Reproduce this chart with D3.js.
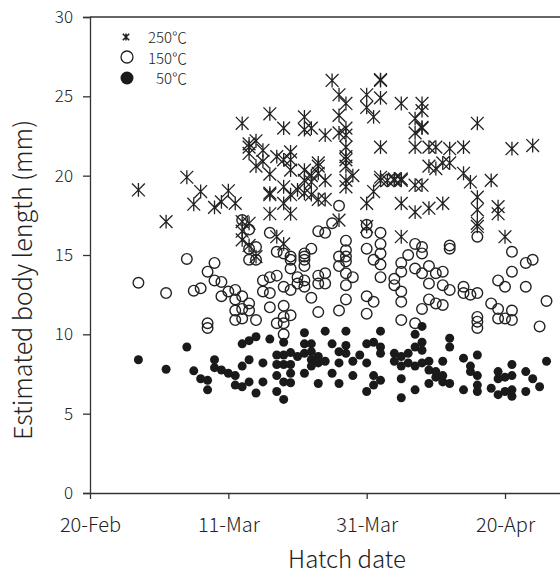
<!DOCTYPE html>
<html>
<head>
<meta charset="utf-8">
<script src="https://cdn.jsdelivr.net/npm/d3@7"></script>
<style>
  html, body { margin: 0; padding: 0; background: #fff; }
  svg { display: block; }
  text { font-family: "Noto Sans CJK JP", "DejaVu Sans", sans-serif; fill: #222; font-weight: 300; }
</style>
</head>
<body>
<svg id="chart" width="560" height="578"></svg>
<script>
// ---------------- DATA ----------------
// Each point: [days after 20-Feb, estimated body length (mm)]
const series250 = [
  [7,19.1],[11,17.1],[14,19.9],[15,18.2],[16,19.0],[18,18.0],[19,18.35],[20,19.05],[21,18.25],
  [22,23.3],[22,17.1],[22,16.5],[22,15.95],
  [23,22.0],[23,21.4],[23,17.0],[23,15.6],[23,21.8],
  [24,22.2],[24,20.6],[24,14.9],
  [25,20.9],[25,21.6],
  [26,23.9],[26,20.1],[26,18.8],[26,18.9],[26,17.6],
  [27,21.2],[27,16.15],
  [28,23.0],[28,19.3],[28,18.25],[28,15.7],[28,21.0],
  [29,21.5],[29,21.0],[29,20.35],[29,18.8],[29,17.6],
  [30,19.1],
  [31,23.7],[31,22.9],[31,20.35],[31,19.7],[31,18.9],
  [32,23.0],[32,20.0],[32,18.8],[32,19.6],
  [33,20.6],[33,20.8],[33,20.15],[33,18.5],
  [34,22.55],[34,19.7],[34,18.5],
  [35,26.0],
  [36,25.1],[36,23.8],[36,22.7],[36,17.2],
  [37,24.55],[37,22.55],[37,23.0],[37,21.8],[37,21.2],[37,20.6],[37,19.7],[37,19.3],[37,21.0],
  [38,20.0],
  [40,25.1],[40,24.3],[40,18.25],[40,16.8],
  [41,23.7],[41,19.0],
  [42,26.0],[42,26.05],[42,24.9],[42,21.8],[42,19.7],[42,19.9],
  [43,19.7],
  [44,19.8],[44,19.7],
  [45,24.55],[45,19.7],[45,19.8],[45,18.25],[45,16.15],
  [47,23.6],[47,22.7],[47,21.8],[47,19.4],[47,17.7],
  [48,24.55],[48,24.1],[48,23.0],[48,23.05],[48,19.4],
  [49,21.8],[49,20.6],[49,17.95],
  [50,21.8],[50,20.45],
  [51,20.8],[51,18.25],
  [52,21.7],[52,20.8],
  [54,21.8],[54,20.15],
  [55,19.6],
  [56,23.3],[56,18.65],[56,17.85],[56,17.0],[56,16.8],
  [58,19.7],
  [59,18.05],[59,17.6],
  [60,16.15],
  [61,21.7],
  [64,21.9]
];

const series150 = [
  [7,13.25],[11,12.6],[14,14.75],[15,12.75],[16,12.9],[17,13.95],[17,10.7],[17,10.4],
  [18,14.5],[18,13.4],[19,13.3],[19,12.4],[20,12.7],
  [21,12.8],[21,12.2],[21,11.5],[21,10.9],
  [22,12.4],[22,11.6],[22,11.0],[22,17.2],
  [23,11.95],[23,11.5],[23,14.7],[23,15.4],[23,16.6],
  [24,10.9],[24,14.7],[24,15.5],
  [25,13.4],[25,12.7],
  [26,13.6],[26,12.6],[26,11.7],[26,16.4],
  [27,15.2],[27,13.7],[27,10.7],
  [28,15.1],[28,13.0],[28,11.8],[28,11.1],[28,10.7],[28,10.0],
  [29,14.7],[29,14.15],[29,12.8],[29,11.2],[29,14.9],
  [30,13.6],[30,13.2],
  [31,15.1],[31,14.7],[31,14.3],[31,13.0],[31,14.9],[31,13.4],
  [32,15.4],[32,12.3],
  [33,13.7],[33,13.2],[33,11.4],[33,16.5],
  [34,16.4],[34,13.85],[34,13.2],
  [35,17.0],
  [36,14.9],[36,14.3],[36,11.5],[36,18.1],
  [37,15.9],[37,15.3],[37,14.9],[37,14.6],[37,13.85],[37,13.1],[37,12.2],
  [38,13.6],
  [40,16.4],[40,15.4],[40,12.4],[40,11.3],[40,16.9],
  [41,14.7],[41,12.05],
  [42,16.4],[42,15.7],[42,15.1],[42,14.4],[42,13.6],
  [44,13.5],[44,13.1],
  [45,14.5],[45,13.95],[45,12.7],[45,12.05],[45,10.9],
  [46,15.0],
  [47,15.7],[47,14.15],[47,10.7],
  [48,15.5],[48,15.1],[48,13.85],[48,11.6],
  [49,14.3],[49,13.2],[49,12.2],
  [50,13.85],[50,11.95],
  [51,13.95],[51,13.1],[51,11.85],
  [52,15.6],[52,15.4],[52,12.8],
  [54,13.0],[54,12.6],
  [55,12.5],
  [56,12.6],[56,16.15],[56,11.1],[56,10.8],[56,10.4],
  [58,11.95],
  [59,13.4],[59,11.6],[59,11.0],
  [60,13.0],[60,11.0],
  [61,13.95],[61,11.5],[61,10.9],[61,15.2],
  [63,14.5],[63,13.0],
  [64,14.7],
  [65,10.5],
  [66,12.1]
];

const series50 = [
  [7,8.4],[11,7.8],[14,9.2],[15,7.7],[16,7.2],[17,7.1],[17,6.5],[18,8.4],[18,7.9],[19,7.75],[20,7.55],[21,7.4],[21,6.8],
  [22,9.4],[22,8.0],[22,6.7],[23,9.6],[23,8.4],[23,7.0],[24,9.85],[24,6.3],
  [25,8.2],[25,7.0],[26,9.7],[27,8.7],[27,8.1],[27,7.4],[27,6.4],
  [28,5.9],[28,9.5],[28,8.7],[28,8.1],[28,7.0],
  [29,8.85],[29,8.1],[29,7.55],[29,6.95],
  [30,8.6],
  [31,10.1],[31,9.4],[31,8.8],[31,7.55],
  [32,8.4],[32,8.9],[32,9.4],[32,8.0],
  [33,6.9],[33,8.2],[33,8.6],
  [34,10.2],[34,8.3],
  [35,9.4],[35,7.55],
  [36,8.9],[36,8.2],[36,6.9],
  [37,10.2],[37,9.3],[37,8.8],
  [38,8.3],[38,7.4],
  [39,8.7],
  [40,8.2],[40,9.4],[40,6.4],
  [41,9.5],[41,7.4],[41,6.8],
  [42,10.2],[42,9.2],[42,8.8],[42,7.1],
  [44,8.8],[44,8.3],
  [45,8.6],[45,8.0],[45,7.2],[45,6.0],
  [46,8.8],[46,8.2],
  [47,10.0],[47,9.2],[47,8.0],[47,6.5],
  [48,10.5],[48,9.5],[48,9.0],[48,8.2],
  [49,7.75],[49,8.3],[49,6.9],
  [50,7.65],[50,7.3],
  [51,7.0],[51,8.3],[51,7.4],
  [52,9.75],[52,9.2],[52,6.9],
  [54,8.5],[54,6.5],
  [55,8.0],[55,7.65],
  [56,8.7],[56,7.4],[56,6.8],[56,6.4],
  [58,6.6],
  [59,7.65],[59,7.2],[59,6.2],
  [60,7.3],[60,6.4],
  [61,8.1],[61,7.4],[61,6.5],[61,6.1],
  [63,7.65],[63,6.4],
  [64,7.2],
  [65,6.7],
  [66,8.3]
];

const xTickDates = ["2008-02-20", "2008-03-11", "2008-03-31", "2008-04-20"];
const yTicks = [0, 5, 10, 15, 20, 25, 30];
const legendLabels = ["250\u2103", "150\u2103", "50\u2103"];
const xTitle = "Hatch date";
const yTitle = "Estimated body length (mm)";

// ---------------- CHART ----------------
const svg = d3.select("#chart");
const base = new Date(2008, 1, 20);
const parse = d3.timeParse("%Y-%m-%d");
const dayToDate = d => d3.timeDay.offset(base, d);

const x = d3.scaleTime()
  .domain([base, d3.timeDay.offset(base, 70)])
  .range([90, 90 + 70 * 6.917]);
const y = d3.scaleLinear().domain([0, 30]).range([493, 17]);

const ink = "#222";
const fontFam = '"Noto Sans CJK JP", "DejaVu Sans", sans-serif';

// Top frame line
svg.append("line")
  .attr("x1", 90).attr("x2", 580)
  .attr("y1", y(30)).attr("y2", y(30))
  .attr("stroke", "#333").attr("stroke-width", 1.3);

// Y axis
const yAxis = svg.append("g")
  .attr("transform", "translate(90,0)")
  .call(d3.axisLeft(y).tickValues(yTicks).tickSize(7).tickPadding(10).tickFormat(d3.format("d")));
yAxis.selectAll("path, line").attr("stroke", "#333").attr("stroke-width", 1.3);
yAxis.selectAll("text").attr("font-size", 17).style("font-family", fontFam).style("font-weight", 300).attr("fill", ink);

// X axis
const xAxis = svg.append("g")
  .attr("transform", `translate(0,${y(0)})`)
  .call(d3.axisBottom(x)
    .tickValues(xTickDates.map(parse))
    .tickSize(6).tickSizeOuter(0).tickPadding(19)
    .tickFormat(d3.timeFormat("%d-%b")));
xAxis.selectAll("path, line").attr("stroke", "#333").attr("stroke-width", 1.3);
xAxis.selectAll("text").attr("font-size", 20).style("font-family", fontFam).style("font-weight", 300).attr("fill", ink);

// Axis titles
svg.append("text")
  .attr("x", 347).attr("y", 568)
  .attr("text-anchor", "middle")
  .attr("font-size", 24)
  .text(xTitle);

svg.append("text")
  .attr("transform", "translate(32,280) rotate(-90)")
  .attr("text-anchor", "middle")
  .attr("font-size", 25)
  .text(yTitle);

// Marker helpers
const asteriskPath = s => `M0,${-s*1.08}L0,${s*1.08}M${-s},${-s}L${s},${s}M${-s},${s}L${s},${-s}`;

const plot = svg.append("g");

// 250°C asterisks
plot.append("g").selectAll("path")
  .data(series250).join("path")
  .attr("transform", d => `translate(${x(dayToDate(d[0]))},${y(d[1])})`)
  .attr("d", asteriskPath(6.4))
  .attr("fill", "none").attr("stroke", ink).attr("stroke-width", 1.3);

// 150°C open circles
plot.append("g").selectAll("circle")
  .data(series150).join("circle")
  .attr("cx", d => x(dayToDate(d[0])))
  .attr("cy", d => y(d[1]))
  .attr("r", 5.3)
  .attr("fill", "none").attr("stroke", ink).attr("stroke-width", 1.4);

// 50°C filled circles
plot.append("g").selectAll("circle")
  .data(series50).join("circle")
  .attr("cx", d => x(dayToDate(d[0])))
  .attr("cy", d => y(d[1]))
  .attr("r", 4.5)
  .attr("fill", "#1a1a1a");

// Legend
const lg = svg.append("g");
lg.append("path")
  .attr("transform", "translate(126,37)")
  .attr("d", asteriskPath(3.2))
  .attr("fill", "none").attr("stroke", ink).attr("stroke-width", 1.6);
lg.append("circle").attr("cx", 127).attr("cy", 57).attr("r", 6)
  .attr("fill", "none").attr("stroke", ink).attr("stroke-width", 1.3);
lg.append("circle").attr("cx", 127).attr("cy", 78).attr("r", 6.5)
  .attr("fill", "#1a1a1a");
lg.selectAll("text.lab").data(legendLabels).join("text")
  .attr("class", "lab")
  .attr("x", 187)
  .attr("y", (d, i) => 43 + i * 20.7)
  .attr("text-anchor", "end")
  .attr("font-size", 15)
  .text(d => d);
</script>
</body>
</html>
